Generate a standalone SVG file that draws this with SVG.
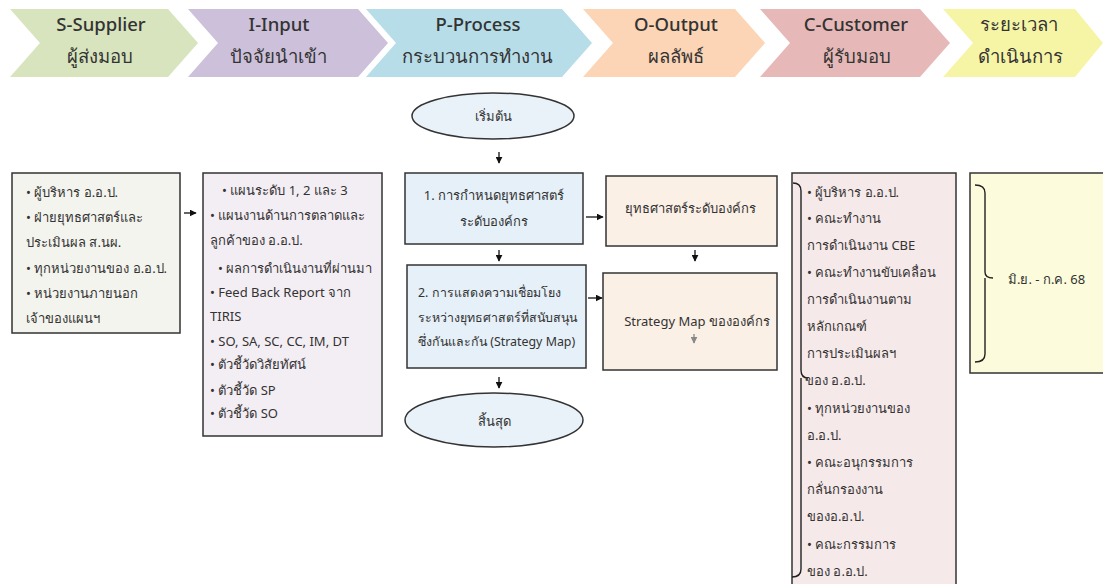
<svg xmlns="http://www.w3.org/2000/svg" width="1103" height="584" viewBox="0 0 1103 584">
<defs>
<marker id="ah" viewBox="0 0 10 10" refX="9" refY="5" markerWidth="7" markerHeight="7" markerUnits="userSpaceOnUse" orient="auto"><path d="M0,0 L10,5 L0,10 z" fill="#111"/></marker>
<marker id="ahg" viewBox="0 0 10 10" refX="9" refY="5" markerWidth="7" markerHeight="7" markerUnits="userSpaceOnUse" orient="auto"><path d="M0,0 L10,5 L0,10 z" fill="#888"/></marker>
<style>
text{font-family:"Noto Sans","DejaVu Sans",sans-serif;fill:#333}
.h{font-size:18.5px;font-weight:500;text-anchor:middle}
.t{font-size:13px}
.s{font-size:12.4px}
.c{text-anchor:middle}
.box{stroke:#333;stroke-width:1.5}
.ln{stroke:#111;stroke-width:1.3;fill:none;marker-end:url(#ah)}
.br{stroke:#222;stroke-width:1.4;fill:none}
</style>
</defs>
<rect width="1103" height="584" fill="#fff"/>
<g id="header">
<polygon points="10,9 168,9 198,43 168,77 10,77 40,43" fill="#d7e4bd"/>
<polygon points="188,9 358,9 388,43 358,77 188,77 218,43" fill="#ccc0da"/>
<polygon points="366,9 562,9 592,43 562,77 366,77 396,43" fill="#b7dde8"/>
<polygon points="583,9 735,9 765,43 735,77 583,77 613,43" fill="#fbd5b5"/>
<polygon points="760,9 920,9 950,43 920,77 760,77 790,43" fill="#e6b9b8"/>
<polygon points="943,9 1075,9 1103,43 1075,77 943,77 973,43" fill="#f6f5a6"/>
<text class="h" x="101" y="31">S-Supplier</text><text class="h" x="100" y="63">ผู้ส่งมอบ</text>
<text class="h" x="279" y="31">I-Input</text><text class="h" x="278" y="63">ปัจจัยนำเข้า</text>
<text class="h" x="478" y="31">P-Process</text><text class="h" x="477" y="63">กระบวนการทำงาน</text>
<text class="h" x="676" y="31">O-Output</text><text class="h" x="676" y="63">ผลลัพธ์</text>
<text class="h" x="856" y="31">C-Customer</text><text class="h" x="857" y="63">ผู้รับมอบ</text>
<text class="h" x="1019" y="31">ระยะเวลา</text><text class="h" x="1020" y="63">ดำเนินการ</text>
</g>
<g id="supplier">
<rect class="box" x="12" y="173" width="168" height="160" fill="#f3f4ee"/>
<g class="t">
<text x="26" y="197">• ผู้บริหาร อ.อ.ป.</text>
<text x="26" y="222">• ฝ่ายยุทธศาสตร์และ</text>
<text x="26" y="247">ประเมินผล ส.นผ.</text>
<text x="26" y="273">• ทุกหน่วยงานของ อ.อ.ป.</text>
<text x="26" y="298">• หน่วยงานภายนอก</text>
<text x="26" y="323">เจ้าของแผนฯ</text>
</g>
</g>
<g id="input">
<rect class="box" x="203" y="173" width="179" height="263" fill="#f3eef3"/>
<g class="t">
<text x="222" y="195">• แผนระดับ 1, 2 และ 3</text>
<text x="210" y="220">• แผนงานด้านการตลาดและ</text>
<text x="210" y="245">ลูกค้าของ อ.อ.ป.</text>
<text x="218" y="273">• ผลการดำเนินงานที่ผ่านมา</text>
<text x="210" y="297">• Feed Back Report จาก</text>
<text x="210" y="321">TIRIS</text>
<text x="210" y="346">• SO, SA, SC, CC, IM, DT</text>
<text x="210" y="369">• ตัวชี้วัดวิสัยทัศน์</text>
<text x="210" y="395">• ตัวชี้วัด SP</text>
<text x="210" y="418">• ตัวชี้วัด SO</text>
</g>
</g>
<g id="start">
<ellipse class="box" cx="493" cy="116" rx="81" ry="23" fill="#e8f2f8"/>
<text class="t c" x="493" y="121">เริ่มต้น</text>
</g>
<g id="process1">
<rect class="box" x="405" y="173" width="178" height="71" fill="#e6f0f8"/>
<text class="t c" x="494" y="200">1. การกำหนดยุทธศาสตร์</text>
<text class="t c" x="494" y="226">ระดับองค์กร</text>
</g>
<g id="process2">
<rect class="box" x="407" y="265" width="179" height="103" fill="#e6f0f8"/>
<text class="s" x="418" y="297">2. การแสดงความเชื่อมโยง</text>
<text class="s" x="418" y="322">ระหว่างยุทธศาสตร์ที่สนับสนุน</text>
<text class="s" x="418" y="346">ซึ่งกันและกัน (Strategy Map)</text>
</g>
<g id="end">
<ellipse class="box" cx="494" cy="420" rx="89" ry="27" fill="#e8f2f8"/>
<text class="t c" x="494" y="426">สิ้นสุด</text>
</g>
<g id="output1">
<rect class="box" x="606" y="176" width="171" height="70" fill="#fbf0e6"/>
<text class="t c" x="690" y="213">ยุทธศาสตร์ระดับองค์กร</text>
</g>
<g id="output2">
<rect class="box" x="603" y="273" width="174" height="97" fill="#fbf0e6"/>
<text class="t c" x="697" y="326">Strategy Map ขององค์กร</text>
<line x1="694" y1="334" x2="694" y2="343" stroke="#888" stroke-width="1.3" marker-end="url(#ahg)"/>
</g>
<g id="customer">
<rect class="box" x="792" y="173" width="164" height="420" fill="#f6e9e9"/>
<path class="br" d="M793,183 Q801,183 801,191 L801,370 Q801,378 808,378 M801,378 L801,569 Q801,577 792,577"/>
<g class="t">
<text x="807" y="197">• ผู้บริหาร อ.อ.ป.</text>
<text x="807" y="223">• คณะทำงาน</text>
<text x="807" y="250">การดำเนินงาน CBE</text>
<text x="807" y="277">• คณะทำงานขับเคลื่อน</text>
<text x="807" y="304">การดำเนินงานตาม</text>
<text x="807" y="331">หลักเกณฑ์</text>
<text x="807" y="358">การประเมินผลฯ</text>
<text x="805" y="385">ของ  อ.อ.ป.</text>
<text x="807" y="413">• ทุกหน่วยงานของ</text>
<text x="807" y="440">อ.อ.ป.</text>
<text x="807" y="467">• คณะอนุกรรมการ</text>
<text x="807" y="494">กลั่นกรองงาน</text>
<text x="807" y="521">ของอ.อ.ป.</text>
<text x="807" y="549">• คณะกรรมการ</text>
<text x="807" y="576">ของ อ.อ.ป.</text>
</g>
</g>
<g id="timeline">
<rect class="box" x="970" y="173" width="140" height="200" fill="#fcfcdc"/>
<path class="br" d="M975,185 Q985,185 985,193 L985,272 Q985,278 993,278 M985,278 L985,354 Q985,362 975,362"/>
<text class="t" x="1008" y="284">มิ.ย. - ก.ค. 68</text>
</g>
<g id="connectors">
<line class="ln" x1="184" y1="213" x2="196" y2="213"/>
<line class="ln" x1="499" y1="152" x2="499" y2="163"/>
<line class="ln" x1="499" y1="250" x2="499" y2="261"/>
<line class="ln" x1="499" y1="377" x2="499" y2="388"/>
<line class="ln" x1="586" y1="217" x2="603" y2="217"/>
<line class="ln" x1="695" y1="250" x2="695" y2="261"/>
<line class="ln" x1="588" y1="298" x2="602" y2="298"/>
</g>
</svg>
